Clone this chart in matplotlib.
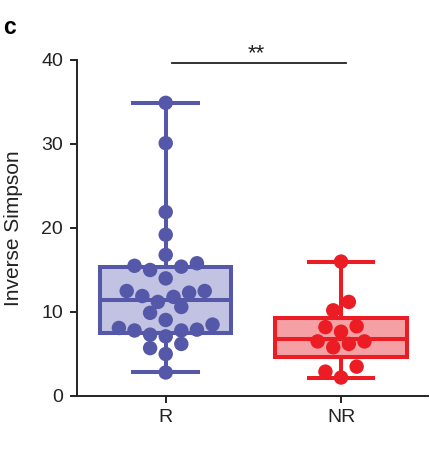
import numpy as np
import matplotlib
matplotlib.use("Agg")
import matplotlib.pyplot as plt

groups = ["R", "NR"]
r_values = [34.9, 30.1, 21.9, 19.2, 16.8, 15.8, 15.4, 14.0, 15.0, 15.5,
            12.5, 11.9, 11.2, 10.6, 11.8, 12.3, 12.5, 9.05, 9.9,
            7.8, 7.3, 8.1, 8.5, 7.1, 7.8, 7.9, 6.2, 5.7, 5.0, 2.8]
nr_values = [16.0, 11.2, 10.2, 8.2, 8.3, 7.65, 6.5, 6.2, 5.8, 6.5, 3.5, 2.9, 2.2]
# box statistics: whislo, q1, median, q3, whishi
r_box = [2.8, 7.5, 11.4, 15.4, 34.9]
nr_box = [2.2, 4.6, 6.75, 9.25, 16.0]
yticks = [0, 10, 20, 30, 40]
ylabel = "Inverse Simpson"
signif = "**"
panel = "c"

line_cols = ["#5558A8", "#EC1C24"]
fill_cols = ["#C2C3E2", "#F4A0A4"]

plt.rcParams["font.family"] = ["Liberation Sans", "DejaVu Sans"]

W, H = 431, 449
fig = plt.figure(figsize=(W / 100, H / 100), dpi=100)
ax = fig.add_axes([77 / W, 1 - 396 / H, (428 - 77) / W, (396 - 60) / H])
ax.set_xlim(-0.506, 1.496)
ax.set_ylim(0, 40)

lw = 2.9
for i, (name, b) in enumerate(zip(groups, [r_box, nr_box])):
    st = dict(label=name, whislo=b[0], q1=b[1], med=b[2], q3=b[3], whishi=b[4])
    bp = ax.bxp([st], positions=[i], widths=[0.75], showfliers=False, patch_artist=True,
                boxprops=dict(facecolor=fill_cols[i], edgecolor=line_cols[i], linewidth=lw),
                medianprops=dict(color=line_cols[i], linewidth=lw),
                whiskerprops=dict(color=line_cols[i], linewidth=lw),
                capprops=dict(color=line_cols[i], linewidth=lw),
                capwidths=[0.37], manage_ticks=False)
    for k in bp:
        for a in bp[k]:
            a.set_clip_on(False)
            a.set_zorder(2)

msize = 10.4  # points
bin_h = 1.8     # data units per row
slot = 0.089    # horizontal spacing between points in a row (x units)


def row_layout(vals, pos):
    vals = np.asarray(vals, float)
    order = np.argsort(vals)
    xs = np.zeros(len(vals))
    bins = []
    for idx in order:
        if bins and vals[idx] <= vals[bins[-1][0]] + bin_h:
            bins[-1].append(idx)
        else:
            bins.append([idx])
    for b in bins:
        n = len(b)
        if n % 2:
            offs = [0] + [s * k for k in range(1, n) for s in (-1, 1)]
        else:
            offs = [s * (k - 0.5) for k in range(1, n) for s in (-1, 1)]
        for j, idx in enumerate(b):
            xs[idx] = pos + offs[j] * slot
    return xs


for i, vals in enumerate([r_values, nr_values]):
    xs = row_layout(vals, i)
    ax.scatter(xs, vals, s=msize ** 2, color=line_cols[i], edgecolor="none",
               zorder=3, clip_on=False)

# significance bar
ax.plot([0.035, 1.03], [39.7, 39.7], color="#222222", lw=1.3, clip_on=False)
ax.text(0.515, 39.45, signif, ha="center", va="bottom", fontsize=16, color="#222222")

for s in ["top", "right"]:
    ax.spines[s].set_visible(False)
for s in ["left", "bottom"]:
    ax.spines[s].set_linewidth(1.4)
    ax.spines[s].set_color("#222222")
ax.set_yticks(yticks)
ax.set_xticks([0, 1])
ax.set_xticklabels(groups)
ax.tick_params(axis="both", labelsize=14, width=1.4, length=5, colors="#222222", pad=5)
ax.tick_params(axis="x", pad=4)
ax.set_ylabel(ylabel, fontsize=15, labelpad=13, color="#222222")

fig.text(3 / W, 1 - 34 / H, panel, fontsize=16.5, fontweight="bold")

fig.savefig("out.png", dpi=100)
